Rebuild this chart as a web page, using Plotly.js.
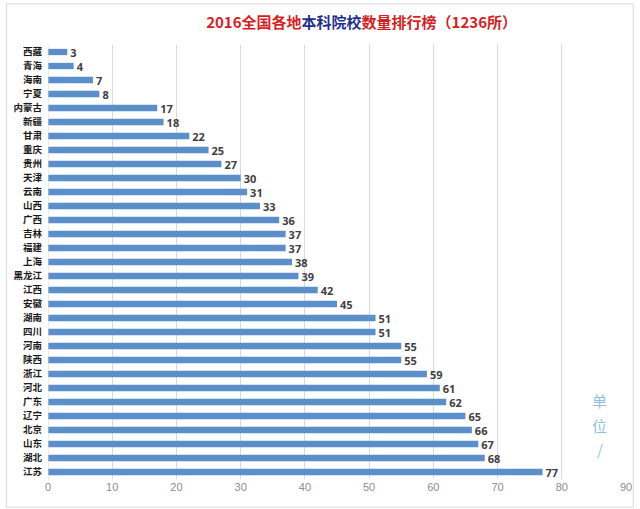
<!DOCTYPE html>
<html>
<head>
<meta charset="utf-8">
<script src="https://cdn.plot.ly/plotly-3.0.1.min.js"></script>
<style>html,body{margin:0;padding:0;background:#fff;}#chart{width:640px;height:509px;}</style>
</head>
<body>
<div id="chart"></div>
<script>
const provinces = ["西藏","青海","海南","宁夏","内蒙古","新疆","甘肃","重庆","贵州","天津","云南","山西","广西","吉林","福建","上海","黑龙江","江西","安徽","湖南","四川","河南","陕西","浙江","河北","广东","辽宁","北京","山东","湖北","江苏"];
const counts = [3,4,7,8,17,18,22,25,27,30,31,33,36,37,37,38,39,42,45,51,51,55,55,59,61,62,65,66,67,68,77];
const xTicks = [0,10,20,30,40,50,60,70,80,90];
const unitChars = ["单","位","/"];

const trace = {
  type: 'bar',
  orientation: 'h',
  y: provinces,
  x: counts,
  text: counts.map(String),
  textposition: 'outside',
  constraintext: 'none',
  cliponaxis: false,
  textfont: {family: 'Open Sans, Liberation Sans, sans-serif', size: 11, color: '#404040', weight: 'bold'},
  marker: {color: '#5b8fc9'},
  hoverinfo: 'none'
};

const layout = {
  width: 640, height: 509,
  margin: {l: 48, r: 14, t: 45, b: 30},
  paper_bgcolor: '#ffffff',
  plot_bgcolor: '#ffffff',
  bargap: 0.55,
  showlegend: false,
  title: {
    text: '<span style="color:#d81e1e">2016全国各地</span><span style="color:#1f2f8f">本科院校</span><span style="color:#d81e1e">数量排行榜（1236所）</span>',
    x: 0.565, xanchor: 'center', y: 0.956, yanchor: 'middle',
    font: {family: 'Noto Sans CJK SC, sans-serif', size: 15, weight: 'bold', color: '#d81e1e'}
  },
  xaxis: {
    range: [0, 90],
    tickvals: xTicks,
    ticktext: xTicks.map(String),
    showgrid: true, gridcolor: '#d9d9d9', gridwidth: 1,
    zeroline: false, showline: false, ticks: '',
    tickfont: {family: 'Liberation Sans, sans-serif', size: 11, color: '#8c8c8c'}
  },
  yaxis: {
    autorange: 'reversed',
    type: 'category',
    showgrid: false, zeroline: false, showline: false, ticks: '',
    ticklabelstandoff: 5,
    tickfont: {family: 'Noto Sans CJK SC, sans-serif', size: 9.5, color: '#1a1a1a', weight: 'bold'}
  },
  shapes: [
    {type: 'rect', xref: 'paper', yref: 'paper', x0: -0.072, x1: 1.0125, y0: -0.065, y1: 1.095, line: {color: '#d9d9d9', width: 1}},
    {type: 'line', xref: 'x', yref: 'paper', x0: 0, x1: 0, y0: 0, y1: 1, line: {color: '#d9d9d9', width: 1}}
  ],
  annotations: unitChars.map((c, i) => ({
    text: c, xref: 'paper', yref: 'paper', x: 0.955, y: 0.18 - i * 0.056,
    xanchor: 'center', yanchor: 'middle', showarrow: false,
    font: {family: 'Noto Sans CJK SC, sans-serif', size: 15, color: '#8fbfe0'}
  }))
};

Plotly.newPlot('chart', [trace], layout, {displayModeBar: false, staticPlot: true});
</script>
</body>
</html>
